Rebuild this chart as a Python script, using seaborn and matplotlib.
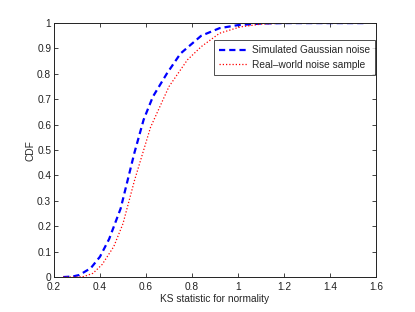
import pandas as pd
import seaborn as sns
import matplotlib.pyplot as plt

# CDF values
gauss_x = [0.24, 0.28, 0.31, 0.36, 0.40, 0.44, 0.49, 0.52, 0.55, 0.59, 0.63, 0.69,
           0.75, 0.84, 0.92, 1.00, 1.10, 1.20, 1.55]
gauss_y = [0.0, 0.002, 0.008, 0.035, 0.08, 0.15, 0.27, 0.38, 0.49, 0.62, 0.71, 0.80,
           0.88, 0.95, 0.98, 0.992, 0.998, 1.0, 1.0]

real_x = [0.24, 0.30, 0.33, 0.37, 0.41, 0.46, 0.50, 0.55, 0.62, 0.66, 0.70, 0.78,
          0.84, 0.92, 1.01, 1.10, 1.20, 1.55]
real_y = [0.0, 0.0, 0.002, 0.015, 0.05, 0.12, 0.21, 0.38, 0.59, 0.67, 0.75, 0.855,
          0.907, 0.96, 0.985, 0.996, 1.0, 1.0]

labels = ["Simulated Gaussian noise", "Real\u2013world noise sample"]

gauss = pd.DataFrame({"x": gauss_x, "y": gauss_y})
real = pd.DataFrame({"x": real_x, "y": real_y})

sns.set_style("white")
plt.rcParams['font.family'] = ['Liberation Sans', 'DejaVu Sans']
plt.rcParams['font.size'] = 7.3

fig = plt.figure(figsize=(4.15, 3.12), dpi=100)
ax = fig.add_axes([0.130, 0.112, 0.776, 0.814])

sns.lineplot(x="x", y="y", data=gauss, ax=ax, color="#0000ff", linewidth=1.6,
             linestyle=(0, (2.8, 1.8)), label=labels[0])
sns.lineplot(x="x", y="y", data=real, ax=ax, color="#ff0000", linewidth=0.9,
             linestyle=(0, (1, 1.6)), label=labels[1])

ax.set_xlim(0.2, 1.6)
ax.set_ylim(0, 1)
ax.set_xticks([0.2, 0.4, 0.6, 0.8, 1.0, 1.2, 1.4, 1.6])
ax.set_xticklabels(["0.2", "0.4", "0.6", "0.8", "1", "1.2", "1.4", "1.6"])
ax.set_yticks([0, 0.1, 0.2, 0.3, 0.4, 0.5, 0.6, 0.7, 0.8, 0.9, 1])
ax.set_yticklabels(["0", "0.1", "0.2", "0.3", "0.4", "0.5", "0.6", "0.7", "0.8", "0.9", "1"])
ax.tick_params(direction="in", length=3, width=0.6, colors="#222222", labelsize=7.3,
               top=True, right=True, bottom=True, left=True)
ax.tick_params(axis="x", pad=3.5)
ax.tick_params(axis="y", pad=2)
for s in ax.spines.values():
    s.set_color("#222222")
    s.set_linewidth(0.7)

ax.set_xlabel("KS statistic for normality", fontsize=7.3, labelpad=1.5)
ax.set_ylabel("CDF", fontsize=7.3, labelpad=1)

leg = ax.legend(loc="upper right", bbox_to_anchor=(0.997, 0.933), fontsize=7.3,
                frameon=True, fancybox=False, borderpad=0.5, handlelength=2.8,
                labelspacing=0.45, handletextpad=0.4, borderaxespad=0)
leg.get_frame().set_edgecolor("#222222")
leg.get_frame().set_linewidth(0.7)

plt.savefig("out.png", dpi=100)
